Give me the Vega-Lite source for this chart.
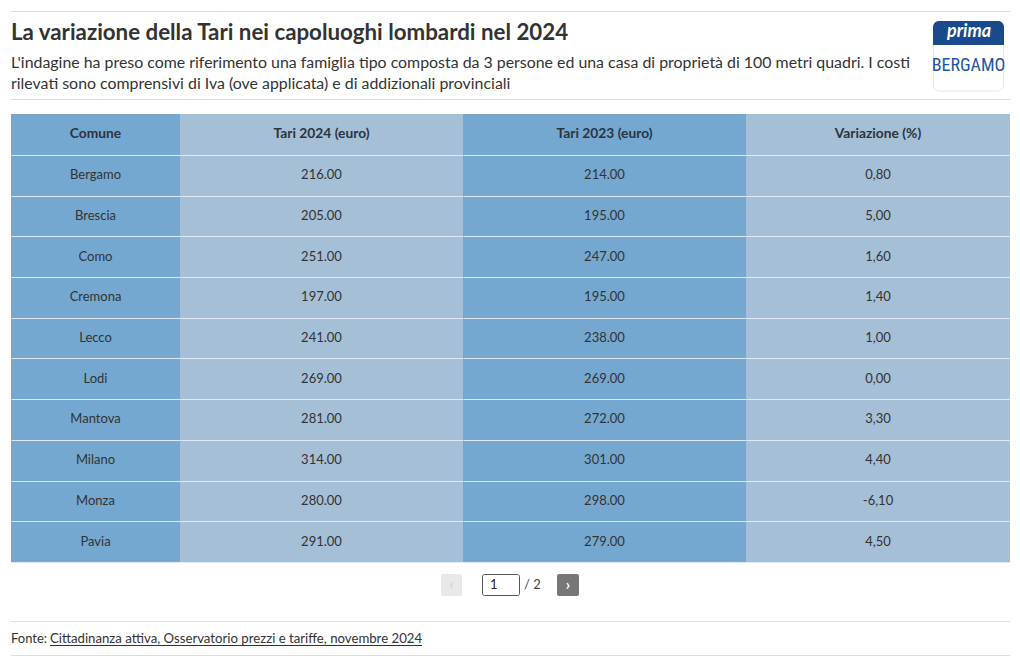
{
  "$schema": "https://vega.github.io/schema/vega-lite/v6.json",
  "padding": {"left": 10, "right": 11, "top": 11, "bottom": 12},
  "background": "white",
  "spacing": 0,
  "config": {
    "font": "Lato",
    "view": {"stroke": null},
    "concat": {"spacing": 0},
    "text": {"font": "Lato", "color": "#333333", "fontSize": 13}
  },
  "datasets": {
    "tari": [
      {"comune": "Bergamo", "tari2024": 216, "tari2023": 214, "variazione": 0.8},
      {"comune": "Brescia", "tari2024": 205, "tari2023": 195, "variazione": 5.0},
      {"comune": "Como", "tari2024": 251, "tari2023": 247, "variazione": 1.6},
      {"comune": "Cremona", "tari2024": 197, "tari2023": 195, "variazione": 1.4},
      {"comune": "Lecco", "tari2024": 241, "tari2023": 238, "variazione": 1.0},
      {"comune": "Lodi", "tari2024": 269, "tari2023": 269, "variazione": 0.0},
      {"comune": "Mantova", "tari2024": 281, "tari2023": 272, "variazione": 3.3},
      {"comune": "Milano", "tari2024": 314, "tari2023": 301, "variazione": 4.4},
      {"comune": "Monza", "tari2024": 280, "tari2023": 298, "variazione": -6.1},
      {"comune": "Pavia", "tari2024": 291, "tari2023": 279, "variazione": 4.5}
    ]
  },
  "vconcat": [
    {
      "width": 999,
      "height": 103,
      "data": {"values": [{}]},
      "layer": [
        {"mark": {"type": "rule", "color": "#dddddd"}, "encoding": {"y": {"value": 0.5}}},
        {"mark": {"type": "rule", "color": "#dddddd"}, "encoding": {"y": {"value": 88.5}}},
        {
          "mark": {"type": "text", "align": "left", "baseline": "alphabetic", "fontSize": 22.3, "fontWeight": "bold", "color": "#333333"},
          "encoding": {"x": {"value": 0}, "y": {"value": 29}, "text": {"value": "La variazione della Tari nei capoluoghi lombardi nel 2024"}}
        },
        {
          "mark": {"type": "text", "align": "left", "baseline": "alphabetic", "fontSize": 15.9, "lineHeight": 21, "color": "#333333"},
          "encoding": {"x": {"value": 0}, "y": {"value": 57}, "text": {"value": ["L'indagine ha preso come riferimento una famiglia tipo composta da 3 persone ed una casa di proprietà di 100 metri quadri. I costi", "rilevati sono comprensivi di Iva (ove applicata) e di addizionali provinciali"]}}
        },
        {
          "mark": {"type": "rect", "fill": "white", "stroke": "#e6e6e6", "strokeWidth": 1, "cornerRadius": 6},
          "encoding": {"x": {"value": 922.5}, "x2": {"value": 992.5}, "y": {"value": 10.5}, "y2": {"value": 80}}
        },
        {
          "mark": {"type": "rect", "fill": "#1b4a8c", "cornerRadiusTopLeft": 6, "cornerRadiusTopRight": 6},
          "encoding": {"x": {"value": 922}, "x2": {"value": 993}, "y": {"value": 10}, "y2": {"value": 34}}
        },
        {
          "mark": {"type": "text", "align": "center", "baseline": "middle", "fontSize": 18, "fontWeight": "bold", "fontStyle": "italic", "color": "white"},
          "encoding": {"x": {"value": 958}, "y": {"value": 21}, "text": {"value": "prima"}}
        },
        {
          "mark": {"type": "text", "align": "center", "baseline": "middle", "fontSize": 18, "font": "Liberation Sans Narrow, Roboto Condensed, Roboto", "color": "#1f56a3"},
          "encoding": {"x": {"value": 957.5}, "y": {"value": 55}, "text": {"value": "BERGAMO"}}
        }
      ]
    },
    {
      "hconcat": [
        {
          "width": 169,
          "height": 448,
          "view": {"fill": "#74a8d0", "stroke": null},
          "layer": [
            {
              "data": {"name": "tari"},
              "mark": {"type": "text", "fontSize": 13, "color": "#333333"},
              "encoding": {
                "y": {"field": "comune", "type": "nominal", "sort": null, "scale": {"range": [40.8, 448], "paddingInner": 0, "paddingOuter": 0}, "axis": {"labels": false, "ticks": false, "domain": false, "title": null, "grid": true, "gridColor": "#dde9f4", "gridWidth": 1, "tickBand": "extent"}},
                "text": {"field": "comune"}
              }
            },
            {
              "data": {"values": [{"col": "Comune"}]},
              "mark": {"type": "text", "fontSize": 13.8, "fontWeight": "bold", "color": "#2b3440"},
              "encoding": {"y": {"value": 19.5}, "text": {"field": "col"}}
            }
          ]
        },
        {
          "width": 283,
          "height": 448,
          "view": {"fill": "#a4bfd6", "stroke": null},
          "layer": [
            {
              "data": {"name": "tari"},
              "mark": {"type": "text", "fontSize": 13, "color": "#333333"},
              "encoding": {
                "y": {"field": "comune", "type": "nominal", "sort": null, "scale": {"range": [40.8, 448], "paddingInner": 0, "paddingOuter": 0}, "axis": {"labels": false, "ticks": false, "domain": false, "title": null, "grid": true, "gridColor": "#dde9f4", "gridWidth": 1, "tickBand": "extent"}},
                "text": {"field": "tari2024", "type": "quantitative", "format": ".2f"}
              }
            },
            {
              "data": {"values": [{"col": "Tari 2024 (euro)"}]},
              "mark": {"type": "text", "fontSize": 13.8, "fontWeight": "bold", "color": "#2b3440"},
              "encoding": {"y": {"value": 19.5}, "text": {"field": "col"}}
            }
          ]
        },
        {
          "width": 283,
          "height": 448,
          "view": {"fill": "#74a8d0", "stroke": null},
          "layer": [
            {
              "data": {"name": "tari"},
              "mark": {"type": "text", "fontSize": 13, "color": "#333333"},
              "encoding": {
                "y": {"field": "comune", "type": "nominal", "sort": null, "scale": {"range": [40.8, 448], "paddingInner": 0, "paddingOuter": 0}, "axis": {"labels": false, "ticks": false, "domain": false, "title": null, "grid": true, "gridColor": "#dde9f4", "gridWidth": 1, "tickBand": "extent"}},
                "text": {"field": "tari2023", "type": "quantitative", "format": ".2f"}
              }
            },
            {
              "data": {"values": [{"col": "Tari 2023 (euro)"}]},
              "mark": {"type": "text", "fontSize": 13.8, "fontWeight": "bold", "color": "#2b3440"},
              "encoding": {"y": {"value": 19.5}, "text": {"field": "col"}}
            }
          ]
        },
        {
          "width": 264,
          "height": 448,
          "view": {"fill": "#a4bfd6", "stroke": null},
          "layer": [
            {
              "data": {"name": "tari"},
              "transform": [{"calculate": "replace(replace(format(datum.variazione, '.2f'), '.', ','), '\u2212', '-')", "as": "varLabel"}],
              "mark": {"type": "text", "fontSize": 13, "color": "#333333"},
              "encoding": {
                "y": {"field": "comune", "type": "nominal", "sort": null, "scale": {"range": [40.8, 448], "paddingInner": 0, "paddingOuter": 0}, "axis": {"labels": false, "ticks": false, "domain": false, "title": null, "grid": true, "gridColor": "#dde9f4", "gridWidth": 1, "tickBand": "extent"}},
                "text": {"field": "varLabel"}
              }
            },
            {
              "data": {"values": [{"col": "Variazione (%)"}]},
              "mark": {"type": "text", "fontSize": 13.8, "fontWeight": "bold", "color": "#2b3440"},
              "encoding": {"y": {"value": 19.5}, "text": {"field": "col"}}
            }
          ]
        }
      ]
    },
    {
      "width": 999,
      "height": 59,
      "data": {"values": [{}]},
      "layer": [
        {
          "mark": {"type": "rect", "fill": "#e8e8e8", "cornerRadius": 2},
          "encoding": {"x": {"value": 430}, "x2": {"value": 451}, "y": {"value": 12}, "y2": {"value": 34}}
        },
        {
          "mark": {"type": "text", "align": "center", "baseline": "middle", "fontSize": 13, "color": "#cccccc"},
          "encoding": {"x": {"value": 440.5}, "y": {"value": 23}, "text": {"value": "‹"}}
        },
        {
          "mark": {"type": "rect", "fill": "white", "stroke": "#555555", "strokeWidth": 1, "cornerRadius": 2},
          "encoding": {"x": {"value": 471.5}, "x2": {"value": 508.5}, "y": {"value": 12.5}, "y2": {"value": 33.5}}
        },
        {
          "mark": {"type": "text", "align": "left", "baseline": "middle", "fontSize": 13, "color": "#222222"},
          "encoding": {"x": {"value": 479}, "y": {"value": 23}, "text": {"value": "1"}}
        },
        {
          "mark": {"type": "text", "align": "left", "baseline": "middle", "fontSize": 13, "color": "#444444"},
          "encoding": {"x": {"value": 513}, "y": {"value": 23}, "text": {"value": "/ 2"}}
        },
        {
          "mark": {"type": "rect", "fill": "#777777", "cornerRadius": 2},
          "encoding": {"x": {"value": 546}, "x2": {"value": 568}, "y": {"value": 12}, "y2": {"value": 34}}
        },
        {
          "mark": {"type": "text", "align": "center", "baseline": "middle", "fontSize": 15, "fontWeight": "bold", "color": "white"},
          "encoding": {"x": {"value": 557}, "y": {"value": 22.5}, "text": {"value": "›"}}
        }
      ]
    },
    {
      "width": 999,
      "height": 34,
      "data": {"values": [{}]},
      "layer": [
        {"mark": {"type": "rule", "color": "#dddddd"}, "encoding": {"y": {"value": 0.5}}},
        {"mark": {"type": "rule", "color": "#dddddd"}, "encoding": {"y": {"value": 34.5}}},
        {
          "mark": {"type": "text", "align": "left", "baseline": "alphabetic", "fontSize": 13, "color": "#333333"},
          "encoding": {"x": {"value": 0}, "y": {"value": 22}, "text": {"value": "Fonte:"}}
        },
        {
          "mark": {"type": "text", "align": "left", "baseline": "alphabetic", "fontSize": 13.2, "color": "#333333"},
          "encoding": {"x": {"value": 39}, "y": {"value": 22}, "text": {"value": "Cittadinanza attiva, Osservatorio prezzi e tariffe, novembre 2024"}}
        },
        {
          "mark": {"type": "rule", "color": "#333333", "strokeWidth": 1},
          "encoding": {"x": {"value": 39}, "x2": {"value": 411}, "y": {"value": 24.5}}
        }
      ]
    }
  ]
}
